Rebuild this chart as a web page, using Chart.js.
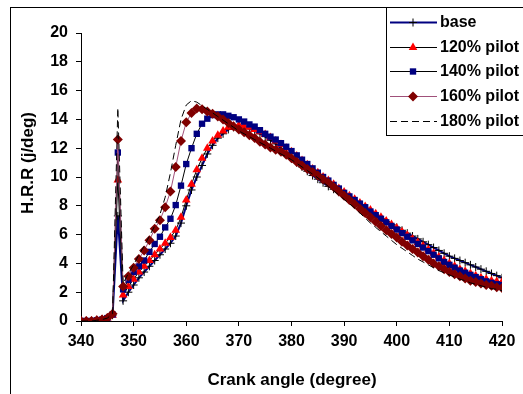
<!DOCTYPE html>
<html>
<head>
<meta charset="utf-8">
<script src="https://cdn.jsdelivr.net/npm/chart.js@4/dist/chart.umd.min.js"></script>
<style>
  html, body { margin: 0; padding: 0; background: #fff; }
</style>
</head>
<body>
<canvas id="grafikHRR" width="523" height="394"></canvas>
<script>
// crank angle (degree), one point per degree
const crankAngle = [
  340, 341, 342, 343, 344, 345, 346, 347, 348, 349,
  350, 351, 352, 353, 354, 355, 356, 357, 358, 359,
  360, 361, 362, 363, 364, 365, 366, 367, 368, 369,
  370, 371, 372, 373, 374, 375, 376, 377, 378, 379,
  380, 381, 382, 383, 384, 385, 386, 387, 388, 389,
  390, 391, 392, 393, 394, 395, 396, 397, 398, 399,
  400, 401, 402, 403, 404, 405, 406, 407, 408, 409,
  410, 411, 412, 413, 414, 415, 416, 417, 418, 419,
  420
];

const hrrBase = [
  0, 0, 0, 0.05, 0.1, 0.2, 0.4, 7.3, 1.4, 2.0,
  2.5, 3.0, 3.4, 3.8, 4.2, 4.6, 5.0, 5.4, 5.9, 6.8,
  8.0, 9.1, 10.0, 10.8, 11.6, 12.2, 12.7, 13.0, 13.3, 13.45,
  13.5, 13.45, 13.35, 13.2, 13.0, 12.8, 12.55, 12.3, 12.0, 11.65,
  11.3, 11.0, 10.7, 10.4, 10.1, 9.85, 9.6, 9.35, 9.15, 8.95,
  8.75, 8.5, 8.25, 8.0, 7.8, 7.55, 7.3, 7.1, 6.9, 6.7,
  6.5, 6.3, 6.1, 5.9, 5.7, 5.5, 5.3, 5.1, 4.9, 4.7,
  4.5, 4.35, 4.2, 4.05, 3.9, 3.75, 3.6, 3.45, 3.3, 3.15,
  3.0
];

const hrr120 = [
  0, 0, 0, 0.05, 0.1, 0.2, 0.4, 9.8, 1.8, 2.4,
  2.9, 3.4, 3.8, 4.2, 4.6, 5.0, 5.4, 5.8, 6.3, 7.2,
  8.4, 9.5, 10.5, 11.3, 12.0, 12.5, 12.9, 13.2, 13.45, 13.55,
  13.6, 13.55, 13.45, 13.3, 13.15, 12.95, 12.75, 12.5, 12.25, 12.0,
  11.75, 11.45, 11.15, 10.85, 10.55, 10.3, 10.0, 9.75, 9.5, 9.2,
  8.95, 8.7, 8.45, 8.2, 7.95, 7.7, 7.45, 7.2, 6.95, 6.7,
  6.45, 6.2, 5.95, 5.7, 5.45, 5.2, 4.95, 4.7, 4.45, 4.2,
  4.0, 3.8, 3.6, 3.45, 3.3, 3.15, 3.0, 2.9, 2.8, 2.75,
  2.7
];

const hrr140 = [
  0, 0, 0, 0.05, 0.1, 0.2, 0.45, 11.7, 2.2, 2.85,
  3.4, 3.8, 4.2, 4.8, 5.35, 5.85, 6.5, 7.1, 8.05, 9.4,
  10.9, 12.0, 13.0, 13.7, 14.05, 14.3, 14.35, 14.35, 14.25, 14.15,
  14.0, 13.85, 13.65, 13.5, 13.25, 13.0, 12.8, 12.6, 12.35, 12.1,
  11.8, 11.5, 11.2, 10.9, 10.6, 10.3, 10.0, 9.75, 9.45, 9.2,
  8.9, 8.65, 8.4, 8.15, 7.9, 7.6, 7.35, 7.1, 6.85, 6.6,
  6.35, 6.1, 5.85, 5.6, 5.35, 5.1, 4.85, 4.6, 4.35, 4.1,
  3.9, 3.7, 3.5, 3.35, 3.2, 3.05, 2.9, 2.75, 2.65, 2.55,
  2.5
];

const hrr160 = [
  0, 0, 0, 0.05, 0.1, 0.2, 0.5, 12.6, 2.4, 3.1,
  3.7, 4.3, 4.9, 5.6, 6.4, 7.0, 7.9, 9.0, 10.7, 12.5,
  13.8, 14.45, 14.75, 14.7, 14.55, 14.4, 14.2, 14.0, 13.75, 13.5,
  13.3, 13.1, 12.9, 12.7, 12.45, 12.25, 12.05, 11.9, 11.75, 11.55,
  11.3, 11.05, 10.8, 10.55, 10.35, 10.1, 9.85, 9.6, 9.3, 9.0,
  8.7, 8.4, 8.1, 7.8, 7.5, 7.2, 6.9, 6.6, 6.3, 6.05,
  5.8, 5.5, 5.25, 5.0, 4.75, 4.5, 4.25, 4.0, 3.8, 3.6,
  3.4, 3.25, 3.1, 2.95, 2.8, 2.7, 2.6, 2.5, 2.45, 2.35,
  2.3
];

const hrr180 = [
  0, 0, 0, 0.05, 0.1, 0.2, 0.5, 14.8, 2.6, 3.3,
  3.9, 4.6, 5.2, 5.9, 6.6, 7.4, 8.6, 10.3, 12.2, 14.0,
  15.0, 15.3, 15.2, 14.95, 14.7, 14.45, 14.2, 13.95, 13.7, 13.45,
  13.2, 13.0, 12.8, 12.6, 12.4, 12.2, 12.0, 11.8, 11.6, 11.4,
  11.2, 10.95, 10.7, 10.45, 10.2, 9.95, 9.65, 9.35, 9.05, 8.75,
  8.45, 8.15, 7.85, 7.5, 7.15, 6.8, 6.5, 6.2, 5.9, 5.6,
  5.3, 5.05, 4.8, 4.55, 4.3, 4.1, 3.9, 3.7, 3.5, 3.35,
  3.2, 3.05, 2.9, 2.8, 2.65, 2.55, 2.45, 2.35, 2.25, 2.2,
  2.1
];

const seriesLabels = ["base", "120% pilot", "140% pilot", "160% pilot", "180% pilot"];
const xTicks = [340, 350, 360, 370, 380, 390, 400, 410, 420];
const yTicks = [0, 2, 4, 6, 8, 10, 12, 14, 16, 18, 20];

const fontBold = "'Liberation Sans', Arial, sans-serif";

function toPoints(values) {
  return values.map((v, i) => ({ x: crankAngle[i], y: v }));
}

// frame, legend box and axis titles
const bingkaiPlugin = {
  id: "bingkai",
  afterDraw(chart) {
    const ctx = chart.ctx;
    ctx.save();
    ctx.strokeStyle = "#000";
    ctx.lineWidth = 1;
    ctx.setLineDash([]);
    ctx.strokeRect(10.5, 7.5, 700, 600);
    ctx.strokeRect(386.5, 7.5, 300, 128);

    ctx.fillStyle = "#000";
    ctx.font = "bold 17px " + fontBold;
    ctx.textAlign = "center";
    ctx.textBaseline = "middle";
    ctx.fillText("Crank angle (degree)", 292, 380);
    ctx.save();
    ctx.translate(28, 163);
    ctx.rotate(-Math.PI / 2);
    ctx.fillText("H.R.R (j/deg)", 0, 0);
    ctx.restore();

    // legend rows
    const rowY = [22, 47, 71, 96, 121];
    chart.data.datasets.forEach((ds, i) => {
      const y = rowY[i] + 0.5;
      ctx.save();
      ctx.strokeStyle = ds.borderColor;
      ctx.lineWidth = ds.borderWidth;
      ctx.setLineDash(ds.borderDash || []);
      ctx.beginPath();
      ctx.moveTo(390, y);
      ctx.lineTo(437, y);
      ctx.stroke();
      ctx.restore();
      if (ds.pointRadius > 0) {
        ctx.save();
        ctx.fillStyle = ds.pointBackgroundColor;
        ctx.strokeStyle = ds.pointBorderColor;
        ctx.lineWidth = ds.pointBorderWidth;
        Chart.helpers.drawPoint(ctx, {
          pointStyle: ds.pointStyle,
          radius: ds.pointRadius,
          rotation: 0,
          borderWidth: ds.pointBorderWidth
        }, 413, y);
        ctx.restore();
      }
      ctx.fillStyle = "#000";
      ctx.font = "bold 16px " + fontBold;
      ctx.textAlign = "left";
      ctx.textBaseline = "middle";
      ctx.fillText(seriesLabels[i], 440, rowY[i] + 1);
    });
    ctx.restore();
  }
};

new Chart(document.getElementById("grafikHRR"), {
  type: "line",
  data: {
    datasets: [
      {
        label: seriesLabels[0],
        data: toPoints(hrrBase),
        borderColor: "#000080",
        borderWidth: 2,
        pointStyle: "cross",
        pointRadius: 4,
        pointBorderColor: "#000",
        pointBackgroundColor: "#000",
        pointBorderWidth: 1,
        order: 5
      },
      {
        label: seriesLabels[1],
        data: toPoints(hrr120),
        borderColor: "#000",
        borderWidth: 1,
        pointStyle: "triangle",
        pointRadius: 5,
        pointBorderColor: "#ff0000",
        pointBackgroundColor: "#ff0000",
        pointBorderWidth: 0,
        order: 4
      },
      {
        label: seriesLabels[2],
        data: toPoints(hrr140),
        borderColor: "#000",
        borderWidth: 1,
        pointStyle: "rect",
        pointRadius: 4.5,
        pointBorderColor: "#000080",
        pointBackgroundColor: "#000080",
        pointBorderWidth: 0,
        order: 3
      },
      {
        label: seriesLabels[3],
        data: toPoints(hrr160),
        borderColor: "#a0507a",
        borderWidth: 1,
        pointStyle: "rectRot",
        pointRadius: 5,
        pointBorderColor: "#800000",
        pointBackgroundColor: "#800000",
        pointBorderWidth: 0,
        order: 2
      },
      {
        label: seriesLabels[4],
        data: toPoints(hrr180),
        borderColor: "#000",
        borderWidth: 1,
        borderDash: [7, 4],
        pointRadius: 0,
        order: 1
      }
    ]
  },
  options: {
    responsive: false,
    animation: false,
    events: [],
    layout: { padding: { left: 0, right: 21, top: 33, bottom: 0 } },
    plugins: { legend: { display: false }, tooltip: { enabled: false } },
    scales: {
      x: {
        type: "linear",
        min: 340,
        max: 420,
        afterFit(scale) { scale.height = 73; },
        afterBuildTicks(scale) { scale.ticks = xTicks.map(v => ({ value: v })); },
        ticks: { color: "#000", font: { family: fontBold, size: 16, weight: "bold" }, padding: 6, maxRotation: 0 },
        grid: { drawOnChartArea: false, tickLength: 5, color: "#000" },
        border: { color: "#000", width: 1 }
      },
      y: {
        min: 0,
        max: 20,
        afterFit(scale) { scale.width = 81; },
        afterBuildTicks(scale) { scale.ticks = yTicks.map(v => ({ value: v })); },
        ticks: { color: "#000", font: { family: fontBold, size: 16, weight: "bold" }, padding: 8 },
        grid: { drawOnChartArea: false, tickLength: 5, color: "#000" },
        border: { color: "#000", width: 1 }
      }
    }
  },
  plugins: [bingkaiPlugin]
});
</script>
</body>
</html>
